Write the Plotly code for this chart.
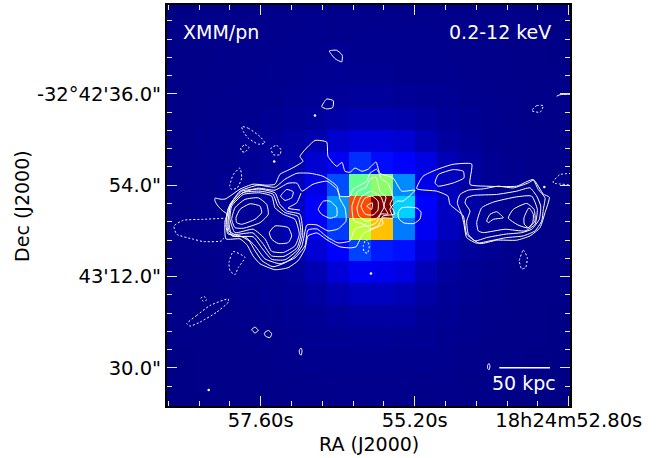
import plotly.graph_objects as go

# XMM/pn counts per cell, normalised (rows north to south, columns east to west)
XMM_ROW_TOP = [
    [.006,.006,.008,.009,.009,.010,.012,.012,.010,.012,.010,.010,.012,.010,.009,.008,.008,.006,.006,.006],
    [.006,.008,.008,.009,.010,.012,.012,.014,.012,.012,.012,.013,.013,.012,.010,.009,.008,.008,.006,.006],
    [.006,.008,.009,.010,.012,.012,.013,.014,.018,.014,.013,.013,.014,.012,.012,.010,.009,.008,.006,.006],
    [.008,.008,.009,.010,.012,.013,.014,.016,.018,.016,.017,.014,.014,.013,.012,.010,.009,.008,.008,.006],
    [.008,.009,.010,.012,.013,.014,.017,.020,.022,.024,.024,.022,.018,.016,.013,.012,.010,.009,.008,.006],
    [.008,.009,.010,.012,.014,.017,.022,.026,.034,.040,.040,.038,.028,.020,.016,.013,.010,.009,.008,.008],
    [.008,.009,.012,.013,.016,.022,.030,.040,.068,.078,.078,.070,.046,.028,.020,.014,.012,.010,.008,.008],
]
XMM_ROW_MID = [
    [.009,.010,.012,.014,.018,.024,.038,.072,.100,.170,.135,.125,.085,.048,.028,.017,.013,.010,.009,.008],
    [.009,.010,.012,.016,.020,.030,.050,.088,.200,.470,.520,.260,.090,.052,.030,.018,.013,.010,.009,.008],
    [.009,.010,.013,.016,.021,.030,.056,.125,.270,.830,1.00,.330,.115,.060,.032,.018,.013,.010,.009,.008],
    [.009,.010,.012,.016,.020,.028,.050,.105,.180,.580,.705,.245,.100,.055,.030,.018,.013,.010,.009,.008],
    [.008,.010,.012,.014,.018,.024,.034,.072,.125,.190,.150,.140,.075,.038,.024,.016,.012,.010,.009,.008],
    [.008,.009,.010,.013,.016,.018,.026,.044,.075,.100,.095,.085,.048,.026,.018,.013,.010,.009,.008,.008],
]
XMM_ROW_LOW = [
    [.008,.008,.009,.012,.013,.016,.020,.030,.042,.055,.055,.048,.032,.020,.016,.012,.009,.008,.008,.006],
    [.006,.008,.009,.010,.012,.013,.016,.020,.026,.030,.030,.030,.022,.016,.013,.010,.009,.008,.006,.006],
    [.006,.008,.008,.009,.010,.012,.013,.016,.017,.019,.019,.017,.016,.013,.012,.009,.008,.008,.006,.006],
    [.006,.006,.008,.009,.009,.010,.012,.013,.013,.014,.014,.013,.013,.012,.010,.009,.008,.006,.006,.006],
    [.006,.006,.008,.008,.009,.009,.010,.010,.012,.012,.012,.012,.010,.010,.009,.008,.008,.006,.006,.005],
    [.005,.006,.006,.008,.008,.009,.009,.009,.010,.010,.010,.009,.009,.009,.008,.008,.006,.006,.005,.005],
]
XMM_Z = XMM_ROW_TOP + XMM_ROW_MID + XMM_ROW_LOW

# Radio contours, as (column, row) positions on the radio map
SOLID_CONTOURS = [
    [(226,238),(240,238),(247,244),(253,255),(260,263),(275,269),(288,267),(298,260),(305,248),(308,235),(317,232),(327,239),(340,246),(350,247),(356,246),(363,233),(373,228),(383,223),(382,217),(393,217),(390,208),(397,200),(403,200),(415,189),(401.7,190),(393,176.7),(380,172),(376,160.7),(368,168),(362,170),(355,166.7),(350,171),(345,170),(342,161),(336.7,165),(328,155),(326.7,140.7),(315,139),(300,155),(303,160),(290,168),(280,173),(275,183),(267,184),(253,183),(240,188),(230,195),(225,198),(220,198),(215,197),(215,200),(218,205),(223,210),(227,213),(225,220),(226,238)],
    [(416.7,187.5),(423,175),(436.7,168.3),(453,163),(471.7,162.7),(470,183.3),(486.7,185),(516.7,185),(533.3,178.3),(543.3,193),(549.3,196),(545,211.7),(540,226.7),(530,235),(516.7,239.3),(496.7,239.3),(480,242.7),(466.7,233.3),(463.3,215),(450,203.3),(448,195),(436.7,190),(416.7,187.5)],
    [(435,181.7),(438.3,173.3),(453.3,168.3),(463.3,170),(464,176.7),(453.3,181.7),(438.3,185),(435,181.7)],
    [(460,193.3),(468.3,189),(483.3,187.7),(498.3,185),(513.3,186.7),(528.3,181.7),(533.3,179),(538.3,188.3),(545,196.7),(543.3,208.3),(541.7,220),(535,230),(523.3,235),(506.7,236.7),(490,240),(476.7,242.3),(466.7,236.7),(464,223.3),(461.7,213.3),(457.3,201.7),(460,193.3)],
    [(466.7,196.7),(473.3,194.3),(496.7,193.3),(516.7,190),(530,186.7),(536.7,195),(540.7,205),(539.3,218.3),(531.7,228.3),(521.7,231.7),(505,233.3),(486.7,236.7),(475,240),(468.3,233.3),(466.7,220),(470,210),(465,201.7),(466.7,196.7)],
    [(476.7,221.7),(481.7,206.7),(493.3,201),(516.7,195.7),(531.7,195),(537.3,208.3),(535,223.3),(525,230),(505,228.3),(483.3,231.7),(478.3,230),(476.7,221.7)],
    [(508.3,217),(513.3,208.3),(526.7,202.3),(534,208.3),(535,220),(528,227),(518,224),(508.3,217)],
    [(524,216.7),(529,206.7),(533.3,213.3),(532.7,221.7),(528.3,226.7),(524.3,223.3),(524,216.7)],
    [(486.7,220),(490,213.3),(496.7,210.7),(503.3,216.7),(493.3,218.3),(488.3,221.7),(486.7,220)],
    [(226,225),(228,208),(240,190),(258,184),(275,186),(285,178),(297,172),(310,172),(323,175),(337,185),(340,198),(345,207),(346,220),(338,228),(328,230),(317,224),(307,224),(302,245),(295,255),(285,262),(273,266),(262,260),(255,250),(249,240),(240,235),(228,233),(226,225)],
    [(229,222),(230,205),(242,192),(258,187),(275,189),(288,182),(297,182),(302,190),(313,183),(327,180),(337,188),(340,195),(350,195),(353,188),(366.7,180),(370,172),(376.7,168),(382,178),(388,182),(393,197),(390,203),(395,213),(383,215),(378,225),(370,228),(367,225),(355,228),(350,240),(338,242),(327,236),(317,228),(308,229),(305,245),(295,257),(280,263),(265,258),(255,245),(245,236),(232,235),(229,222)],
    [(301,192),(296.7,201.7),(288,207),(300,209)],
    [(226.7,218.3),(230,203.3),(241.7,190),(260,188),(275,191.7),(280,203.3),(286.7,210),(300,213.3),(302.7,233.3),(298.3,248.3),(285,259),(271.7,258.5),(261.7,247),(253.3,236),(235,235.5),(228.3,231.7),(226.7,218.3)],
    [(228,220),(231,204),(243,191.5),(260,190),(273,193),(278,205),(285,211.5),(298,215.5),(301,233),(297,247),(284,255.5),(271.5,255),(263,243),(253,232),(235,233.5),(229,230),(228,220)],
    [(230,218.3),(231.7,205),(243.3,193.3),(260,191.7),(271.7,195),(275,206.7),(283.3,213.3),(295,218.3),(299.3,233.3),(295,245),(283.3,251.7),(271.7,250.5),(265,238),(253.3,228.3),(235,231.7),(230,218.3)],
    [(231.7,218.3),(235,206.7),(245,198.3),(258.3,196.7),(266.7,203.3),(268.3,213.3),(260,221.7),(243.3,227.3),(235,226.7),(231.7,218.3)],
    [(236,216.7),(240,208.3),(250,202.7),(260,205),(261.7,211.7),(255,218.3),(241.7,223.3),(236.7,221.7),(236,216.7)],
    [(269.3,231.7),(275,225),(288.3,226.7),(291.7,235),(288.3,241.7),(278.3,242.7),(271.7,238.3),(269.3,231.7)],
    [(280.7,195),(286.7,188.3),(293.3,190.7),(291.7,196.7),(285,199.3),(280.7,195)],
    [(318.3,208.3),(323.3,200),(330,200),(336.7,206.7),(336.7,215),(330,217.3),(321.7,213.3),(318.3,208.3)],
    [(398,212),(401,207),(408,206),(417,207),(421,211),(420,218),(414,222.5),(404,222),(399,218),(398,212)],
    [(358,190),(366,186),(370,178),(376,176),(380,190),(386,196),(384,205),(388,213),(381,213),(376,222),(368,225),(360,222),(354,220),(352,205),(358,190)],
    [(357,207),(361,196),(371,190),(381,196),(384,206),(377,217),(366,220),(359,215),(357,207)],
    [(361,205),(365,197),(372,195),(378,200),(378,209),(373,214),(365,213),(361,205)],
    [(366.7,205),(372.3,201.7),(371.7,208.3),(366.7,205)],
    [(329.3,49),(336.7,48.3),(342.3,53.3),(341.7,60),(335,56.7),(329.3,49)],
    [(321.7,105),(326.7,97.3),(333.3,99),(332.7,106),(326.7,107.3),(321.7,105)],
    [(251.7,329.3),(255,326.7),(258.3,330),(255,332.7),(251.7,329.3)],
    [(264.3,332.7),(268.3,330),(271.7,333.3),(270,337.3),(265.7,336),(264.3,332.7)],
    [(299.3,350),(301,347.7),(302,350),(301.3,354.7),(299.7,354),(299.3,350)],
    [(487.7,365),(489,363.3),(490,366),(489,369.7),(487.7,368.3),(487.7,365)],
    [(556.7,94.5),(560,93),(572,92.5)],
]
DASHED_CONTOURS = [
    [(241.7,125),(248.3,126.7),(260,135),(265,141.7),(258.3,142.7),(248.3,136.7),(243.3,130),(241.7,125)],
    [(240.7,146.7),(245,143.3),(249,146),(245,150.7),(241.7,150),(240.7,146.7)],
    [(271,146.7),(276.7,144),(281,148.3),(280,153.3),(273.3,153.3),(271,146.7)],
    [(229.7,185),(233.3,173.3),(240,166.7),(241.7,176.7),(237.3,186.7),(231.7,188.3),(229.7,185)],
    [(223.3,217.3),(203.3,218.3),(183.3,219.3),(174,225),(176.7,233.3),(193.3,238.3),(203.3,240.7),(221.7,240),(225,235)],
    [(229,261.7),(233.3,250.7),(245,256.7),(238.3,266.7),(235,274),(230,270),(229,261.7)],
    [(363.3,245),(366,238.3),(369.3,245),(367.3,252.7),(364,250.7),(363.3,245)],
    [(519.3,260),(523.3,249.3),(527.3,256.7),(525.7,266.7),(521.7,268.3),(519.3,260)],
    [(575,172),(560,173.3),(553.3,180),(553.3,181.7),(575,184)],
    [(531.7,109),(536.7,104),(543.3,104),(540,110.7),(531.7,109)],
    [(186.7,323.3),(196.7,315),(210,305),(228.3,298.3),(228.3,301.7),(216.7,311.7),(200,321.7),(190,325.7),(186.7,323.3)],
    [(200.7,297.7),(204,295.7),(206.7,299.3),(203.3,300.7),(200.7,297.7)],
]
COMPACT_COL = [208.7, 371, 274.2, 315, 544.3]
COMPACT_ROW = [390, 272.7, 160.2, 114, 185.7]

SCALE_BAR_COL = [499.3, 550]
SCALE_BAR_ROW = [367.7, 367.7]

RA_TICKS = [57.60, 55.20, 52.80]
RA_LABELS = ["57.60s", "55.20s", "18h24m52.80s"]
RA_MINOR = [59.04, 58.56, 58.08, 57.12, 56.64, 56.16, 55.68, 54.72, 54.24, 53.76, 53.28]
DEC_TICKS = [36, 54, 72, 90]
DEC_LABELS = ["-32°42'36.0\"", "54.0\"", "43'12.0\"", "30.0\""]
DEC_MINOR = [21.6, 25.2, 28.8, 32.4, 39.6, 43.2, 46.8, 50.4, 57.6, 61.2, 64.8, 68.4, 75.6, 79.2, 82.8, 86.4, 93.6]

JET = [
    [0, "rgb(0,0,127)"], [.11, "rgb(0,0,255)"], [.125, "rgb(0,0,255)"], [.34, "rgb(0,219,255)"],
    [.35, "rgb(0,229,247)"], [.375, "rgb(20,255,226)"], [.64, "rgb(238,255,8)"], [.65, "rgb(247,245,0)"],
    [.66, "rgb(255,236,0)"], [.89, "rgb(255,18,0)"], [.91, "rgb(231,0,0)"], [1, "rgb(127,0,0)"],
]


# World coordinate transform of the maps: RA seconds and Dec arcsec past -32°42'
def ra_of(col):
    return 57.6 - (col - 260.7) / 64.17


def dec_of(row):
    return 54 + (row - 184) / 5.105


def path_coords(paths):
    xs, ys = [], []
    for path in paths:
        xs += [ra_of(p[0]) for p in path] + [None]
        ys += [dec_of(p[1]) for p in path] + [None]
    return xs, ys


xmm_ra = [ra_of(162.5 + 22 * i) for i in range(20)]
xmm_dec = [dec_of(7.5 + 22 * j) for j in range(len(XMM_Z))]

fig = go.Figure()
fig.add_trace(go.Heatmap(x=xmm_ra, y=xmm_dec, z=XMM_Z, colorscale=JET, zmin=0, zmax=1,
                         showscale=False, hoverinfo="skip"))
sx, sy = path_coords(SOLID_CONTOURS)
fig.add_trace(go.Scatter(x=sx, y=sy, mode="lines", line=dict(color="white", width=1, shape="spline", smoothing=0.5), hoverinfo="skip"))
dx, dy = path_coords(DASHED_CONTOURS)
fig.add_trace(go.Scatter(x=dx, y=dy, mode="lines", line=dict(color="white", width=1, dash="2px,2px", shape="spline", smoothing=0.5), hoverinfo="skip"))
fig.add_trace(go.Scatter(x=[ra_of(c) for c in COMPACT_COL], y=[dec_of(r) for r in COMPACT_ROW], mode="markers",
                         marker=dict(color="white", size=2.5, line=dict(width=0)), hoverinfo="skip"))
fig.add_trace(go.Scatter(x=[ra_of(c) for c in SCALE_BAR_COL], y=[dec_of(r) for r in SCALE_BAR_ROW], mode="lines",
                         line=dict(color="white", width=1.5), hoverinfo="skip"))

FONT = "DejaVu Sans"
axis_common = dict(showline=True, linecolor="black", linewidth=2, mirror="ticks", showgrid=False, zeroline=False,
                   ticks="inside", ticklen=10, tickwidth=1.2, tickcolor="#e8e8e8", tickmode="array",
                   tickfont=dict(family=FONT, size=19.5, color="black"))
fig.update_xaxes(range=[59.06, 52.78], tickvals=RA_TICKS, ticktext=RA_LABELS, ticklabelstandoff=-4,
                 minor=dict(ticks="inside", ticklen=5, tickwidth=1.2, tickcolor="#e8e8e8", tickvals=RA_MINOR), **axis_common)
fig.update_yaxes(range=[97.5, 18.5], tickvals=DEC_TICKS, ticktext=DEC_LABELS,
                 minor=dict(ticks="inside", ticklen=5, tickwidth=1.2, tickcolor="#e8e8e8", tickvals=DEC_MINOR), **axis_common)

white = dict(family=FONT, size=19, color="white")
black = dict(family=FONT, size=19, color="black")
fig.update_layout(
    width=670, height=458, autosize=False, showlegend=False,
    margin=dict(l=167, r=100, t=3, b=52, pad=0),
    paper_bgcolor="white", plot_bgcolor="#00007f",
    annotations=[
        dict(text="XMM/pn", xref="paper", yref="paper", x=.0347, y=.933, xanchor="left", yanchor="middle", showarrow=False, font=white),
        dict(text="0.2-12 keV", xref="paper", yref="paper", x=.958, y=.933, xanchor="right", yanchor="middle", showarrow=False, font=white),
        dict(text="50 kpc", xref="paper", yref="paper", x=.887, y=.057, xanchor="center", yanchor="middle", showarrow=False, font=white),
        dict(text="RA (J2000)", xref="paper", yref="paper", x=.502, y=-.0943, xanchor="center", yanchor="middle", showarrow=False, font=black),
        dict(text="Dec (J2000)", xref="paper", yref="paper", x=-.36, y=.4988, xanchor="center", yanchor="middle", showarrow=False, textangle=-90, font=black),
    ],
)
fig.write_html("out.html", config=dict(displayModeBar=False),
               post_script="document.body.style.margin='0';document.body.style.overflow='hidden';")
